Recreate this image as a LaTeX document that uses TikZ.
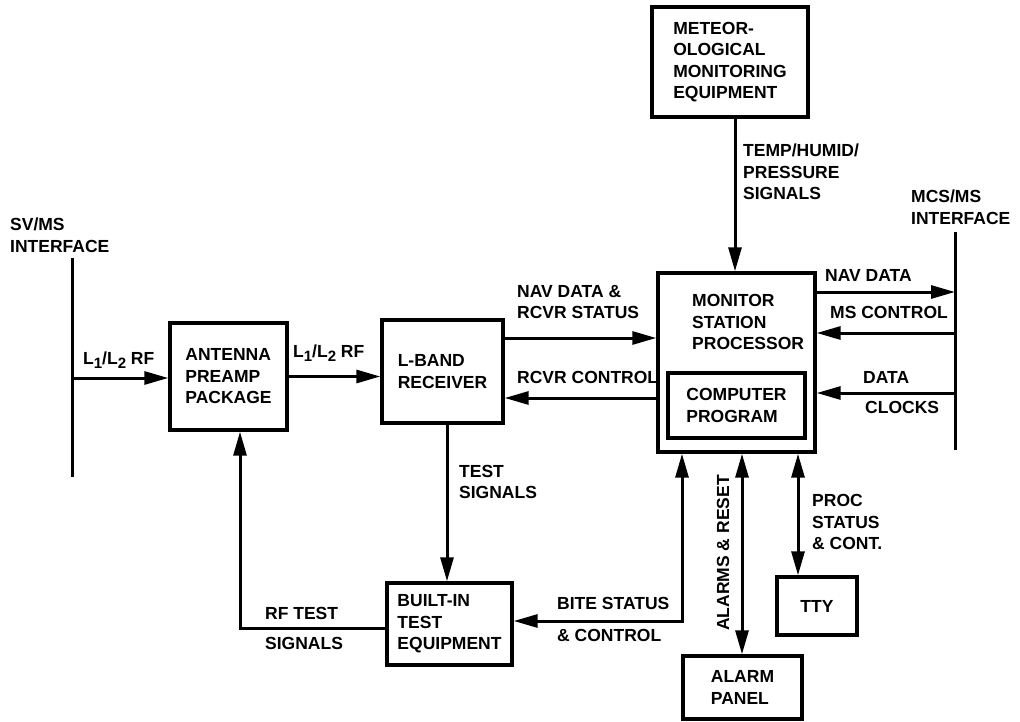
\documentclass[tikz,border=0pt]{standalone}
\usepackage{fontspec}
\setmainfont{Liberation Sans}
\usetikzlibrary{arrows.meta}
\newcommand{\lbltxt}{\fontsize{17.5}{21.5}\selectfont\bfseries}
\newcommand{\Ls}[1]{L\raisebox{-0.45ex}{\fontsize{15}{15}\selectfont #1}}
\begin{document}
\begin{tikzpicture}[x=1pt,y=-1pt,
  box/.style={draw, line width=3.4pt, align=left, inner sep=0pt, font=\lbltxt},
  lbl/.style={align=left, inner sep=0pt, font=\lbltxt, anchor=west},
  conn/.style={line width=3pt},
  arr/.style={conn, -{Triangle[length=24pt,width=13pt]}},
  darr/.style={conn, {Triangle[length=24pt,width=13pt]}-{Triangle[length=24pt,width=13pt]}},
  iface/.style={line width=3pt}]
\useasboundingbox (0,0) rectangle (1020,722);

% boxes
\node[box, minimum width=156pt, minimum height=110pt] (meteo) at (730,62) {METEOR-\\OLOGICAL\\MONITORING\\EQUIPMENT};
\node[box, minimum width=157pt, minimum height=179pt] (msp) at (736.5,362.5) {};
\node[lbl] (msptext) at (692,322) {MONITOR\\STATION\\PROCESSOR};
\node[box, minimum width=137pt, minimum height=65pt] (cp) at (736.5,405.5) {COMPUTER\\PROGRAM};
\node[box, minimum width=121pt, minimum height=103pt] (lband) at (442.5,371.5) {L-BAND\\RECEIVER};
\node[box, minimum width=117pt, minimum height=107pt] (ant) at (228.5,376.5) {ANTENNA\\PREAMP\\PACKAGE};
\node[box, minimum width=125pt, minimum height=82pt] (bite) at (449.5,624) {BUILT-IN\\TEST\\EQUIPMENT};
\node[box, minimum width=119pt, minimum height=63pt] (alarm) at (742.5,687.5) {ALARM\\PANEL};
\node[box, minimum width=80pt, minimum height=58pt] (tty) at (817,606) {TTY};

% interfaces
\coordinate (svtop) at (72,258);
\coordinate (svbot) at (72,477);
\coordinate (svin) at (72,378);
\draw[iface] (svtop) -- (svbot);
\coordinate (mctop) at (955,232);
\coordinate (mcbot) at (955,450);
\coordinate (mc1) at (955,292);
\coordinate (mc2) at (955,333);
\coordinate (mc3) at (955,393);
\draw[iface] (mctop) -- (mcbot);

% connectors
\draw[arr] (svin) -- (svin -| ant.west);
\draw[arr] (ant.east) -- (ant.east -| lband.west);
\draw[arr] (lband.east |- 0,338) -- (msp.west |- 0,338);
\draw[arr] (msp.west |- 0,398) -- (lband.east |- 0,398);
\draw[arr] (msp.east |- mc1) -- (mc1);
\draw[arr] (mc2) -- (msp.east |- mc2);
\draw[arr] (mc3) -- (msp.east |- mc3);
\draw[arr] (meteo.south -| 735,0) -- (msp.north -| 735,0);
\draw[arr] (lband.south -| 447,0) -- (bite.north -| 447,0);
\draw[arr] (bite.west |- 0,628) -| (ant.south -| 240,0);
\draw[darr] (msp.south -| 682,0) |- (bite.east |- 0,621);
\draw[darr] (msp.south -| 742,0) -- (alarm.north -| 742,0);
\draw[darr] (msp.south -| 798,0) -- (tty.north -| 798,0);

% labels
\node[lbl] (lsv) at (10,235) {SV/MS\\INTERFACE};
\node[lbl] (lmcs) at (911,207) {MCS/MS\\INTERFACE};
\node[lbl] (lrf1) at (83,360) {\Ls{1}/\Ls{2} RF};
\node[lbl] (lrf2) at (293,353) {\Ls{1}/\Ls{2} RF};
\node[lbl] (lnav) at (517,302) {NAV DATA \&\\RCVR STATUS};
\node[lbl] (lrc) at (517,377) {RCVR CONTROL};
\node[lbl] (lnd) at (825,275) {NAV DATA};
\node[lbl] (lmsc) at (830,312) {MS CONTROL};
\node[lbl] (ldata) at (863,377) {DATA};
\node[lbl] (lclk) at (865,407) {CLOCKS};
\node[lbl] (ltemp) at (743,172) {TEMP/HUMID/\\PRESSURE\\SIGNALS};
\node[lbl] (ltest) at (459,482) {TEST\\SIGNALS};
\node[lbl] (lrft) at (265,613) {RF TEST};
\node[lbl] (lrfs) at (265,643) {SIGNALS};
\node[lbl] (lbs) at (557,603) {BITE STATUS};
\node[lbl] (lbc) at (557,635) {\& CONTROL};
\node[lbl] (lproc) at (812,522) {PROC\\STATUS\\\& CONT.};
\node[lbl, anchor=center, rotate=90] (lalarm) at (723,553) {ALARMS \& RESET};
\end{tikzpicture}
\end{document}
